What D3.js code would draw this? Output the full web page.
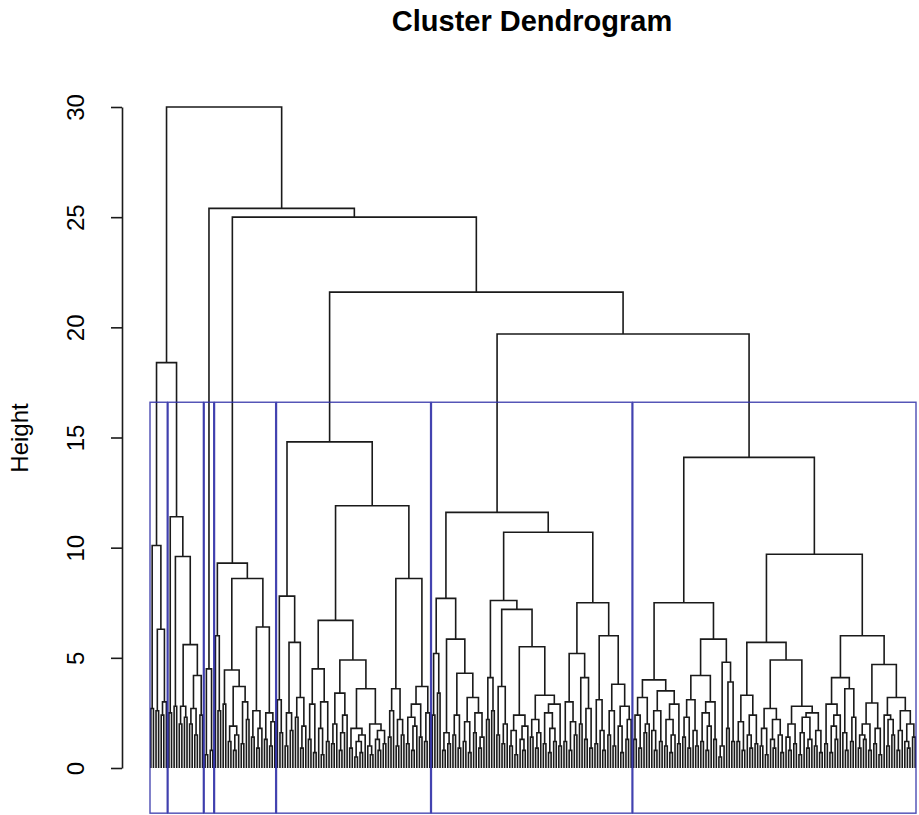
<!DOCTYPE html>
<html>
<head>
<meta charset="utf-8">
<script src="https://cdn.jsdelivr.net/npm/d3@7"></script>
<style>
  body { margin: 0; background: #fff; }
  svg { display: block; }
  text { font-family: "Liberation Sans", Arial, sans-serif; fill: #000; }
</style>
</head>
<body>
<svg id="chart"></svg>
<script>
// Cluster dendrogram (hclust style) with rect.hclust boxes, k = 7

// Each cluster is given by the heights at which neighbouring leaves join,
//   in leaf order. The tree is rebuilt from these: the biggest gap is the
//   top merge, then recurse on both sides.
var cluster1 = [2.7, 10.1, 2.6, 6.3, 2.4, 3.0];
var cluster2 = [2.5, 11.4, 2.8, 9.6, 2.0, 2.8, 2.3, 5.6, 2.0, 2.7, 1.5, 4.2, 2.4];
var cluster3 = [0.6, 4.5, 0.8];
var cluster4 = [6.0, 2.6, 9.3, 2.9, 4.45, 1.2, 1.9, 0.8, 1.5, 3.7, 1.1, 3.0, 2.2,
                8.6, 1.4, 2.6, 0.9, 1.8, 6.4, 1.3, 2.5, 1.0, 2.1];
var cluster5 = [3.1, 1.6, 7.8, 1.0, 2.5, 1.7, 5.7, 2.3, 3.2, 0.9, 1.9,
                14.8,
                1.3, 2.9, 0.7, 4.5, 1.8, 0.6, 3.0, 1.2, 6.7,
                1.1, 2.0, 3.4, 0.8, 1.6, 2.4, 4.9, 0.9, 1.8, 0.5, 1.2, 0.7, 1.5,
                3.6, 1.0, 0.6, 2.0, 1.3, 0.8, 1.7, 1.1,
                11.9,
                1.4, 2.6, 3.6, 1.0, 2.2, 1.5, 8.6, 1.1, 2.3, 0.8, 1.9, 2.9, 1.4, 3.7, 1.2, 2.5];
var cluster6 = [2.4, 5.2, 3.4, 7.7, 0.8, 1.6, 1.1, 5.85, 1.5, 2.4, 0.9, 4.3,
                1.2, 2.1, 0.7, 3.2, 1.6, 2.5, 0.9, 1.4,
                11.6,
                2.2, 4.1, 2.6, 7.6, 1.5, 3.7, 1.1, 2.0, 7.2, 1.0, 1.7, 0.6, 2.4, 1.3, 0.8, 1.9,
                5.5, 1.4, 2.2, 0.9, 1.6, 3.3, 1.1, 2.5, 0.7, 1.8, 1.2, 2.9, 1.0,
                10.7,
                1.2, 3.0, 0.8, 2.1, 1.5, 5.2, 2.0, 4.1, 1.3, 2.7, 0.9, 7.5,
                1.1, 3.1, 1.7, 0.8, 6.0, 1.5, 2.6, 1.0, 3.8, 1.9, 0.7, 2.8, 1.3, 2.2];
var cluster7 = [1.3, 2.4, 0.9, 3.2, 1.6, 2.0, 4.0, 1.7, 0.8, 2.6, 1.2, 3.5, 1.0, 2.2, 0.7, 1.5, 2.9, 1.1,
                7.5,
                1.4, 2.3, 0.9, 3.1, 1.7, 1.0, 4.2, 1.2, 2.5, 0.8, 1.9, 3.0, 1.3,
                5.85, 0.5, 1.0, 4.8, 1.8, 3.9, 1.2,
                14.1,
                1.2, 2.1, 0.8, 3.3, 1.5, 0.9, 2.4, 1.1, 5.7,
                1.0, 1.8, 0.6, 2.7, 1.3, 0.9, 2.2, 1.5, 0.7, 4.9,
                1.4, 0.8, 2.0, 1.1, 2.8, 0.6, 1.6, 2.3, 0.9, 1.3, 2.5, 1.0, 1.7, 0.7,
                9.7,
                1.1, 2.9, 0.7, 1.9, 1.3, 2.4, 4.1, 1.6, 0.8, 3.6, 1.2, 2.3,
                6.0,
                0.9, 1.5, 1.3, 2.0, 0.8, 2.95, 1.1, 1.8, 0.6, 4.7,
                2.4, 1.0, 2.2, 1.5, 3.2, 0.8, 1.7, 2.6, 1.2, 0.9, 2.0, 1.4];

// Heights where one cluster joins the next one (left to right)
var clusterJoins = [18.4, 30.0, 25.4, 25.0, 21.6, 19.7];

var yTicks = [0, 5, 10, 15, 20, 25, 30];
var chartTitle = "Cluster Dendrogram";
var yLabel = "Height";

var clusters = [cluster1, cluster2, cluster3, cluster4, cluster5, cluster6, cluster7];

// All gaps in one row, plus the size of each cluster
var gaps = [];
var clusterSize = [];
clusters.forEach(function(c, i) {
    if (i > 0) gaps.push(clusterJoins[i - 1]);
    gaps = gaps.concat(c);
    clusterSize.push(c.length + 1);
});
var nLeaves = gaps.length + 1;

var svg = d3.select("#chart")
    .attr("width", 919)
    .attr("height", 815);

var axisX = 122,
    rectBottom = -2.05;

// leaves are numbered 1..n like in R
var x = d3.scaleLinear().domain([0.66, nLeaves + 0.33]).range([150, 916]);
var y = d3.scaleLinear().domain([0, 30]).range([768, 107]);

// Rebuild the binary tree from the gap heights
var nodes = [];
function build(lo, hi) {
    if (lo == hi) return {h: 0, x: x(lo + 1)};
    var best = lo;
    for (var i = lo + 1; i < hi; i++) {
        if (gaps[i] > gaps[best]) best = i;
    }
    var left = build(lo, best),
        right = build(best + 1, hi);
    var node = {h: gaps[best], left: left, right: right, x: (left.x + right.x) / 2};
    nodes.push(node);
    return node;
}
build(0, nLeaves - 1);

// Branches: down to each child, joined across at the merge height
svg.append("g")
  .selectAll("path.branch")
  .data(nodes)
  .enter()
  .append("path")
    .attr("class", "branch")
    .attr("d", function(d) {
        return "M" + d.left.x + "," + y(d.left.h) +
               "V" + y(d.h) + "H" + d.right.x + "V" + y(d.right.h);
    })
    .attr("fill", "none")
    .attr("stroke", "#1a1a1a")
    .attr("stroke-width", 1.6);

// rect.hclust: top sits between the (k-1)th and kth highest merges
var k = clusters.length;
var sortedH = nodes.map(function(d) { return d.h; }).sort(d3.descending);
var cutH = (sortedH[k - 2] + sortedH[k - 1]) / 2;

var boxes = [];
var start = 1;
clusterSize.forEach(function(m) {
    boxes.push({a: start, b: start + m - 1});
    start += m;
});

svg.append("g")
  .selectAll("rect")
  .data(boxes)
  .enter()
  .append("rect")
    .attr("x", function(d) { return x(d.a - 0.34); })
    .attr("width", function(d) { return x(d.b + 0.33) - x(d.a - 0.34); })
    .attr("y", y(cutH))
    .attr("height", y(rectBottom) - y(cutH))
    .attr("fill", "none")
    .attr("stroke", "#2c2ca6")
    .attr("stroke-opacity", 0.85)
    .attr("stroke-width", 1.4);

// y axis, labels turned to run along the axis
var yAxis = svg.append("g")
    .attr("transform", "translate(" + axisX + ",0)")
    .call(d3.axisLeft(y).tickValues(yTicks).tickSize(11).tickSizeOuter(0).tickFormat(d3.format("d")));

yAxis.select(".domain").attr("stroke", "#1a1a1a").attr("stroke-width", 1.6);
yAxis.selectAll(".tick line").attr("stroke", "#1a1a1a").attr("stroke-width", 1.6);
yAxis.selectAll(".tick text")
    .attr("transform", "rotate(-90)")
    .attr("x", 0)
    .attr("y", -38)
    .attr("dy", 0)
    .attr("text-anchor", "middle")
    .style("font-size", "24px")
    .style("font-family", "'Liberation Sans', Arial, sans-serif")
    .attr("fill", "#000");

svg.append("text")
    .attr("transform", "translate(28,438) rotate(-90)")
    .attr("text-anchor", "middle")
    .style("font-size", "24px")
    .text(yLabel);

svg.append("text")
    .attr("x", 532)
    .attr("y", 31)
    .attr("text-anchor", "middle")
    .style("font-size", "29px")
    .style("font-weight", "bold")
    .text(chartTitle);
</script>
</body>
</html>
